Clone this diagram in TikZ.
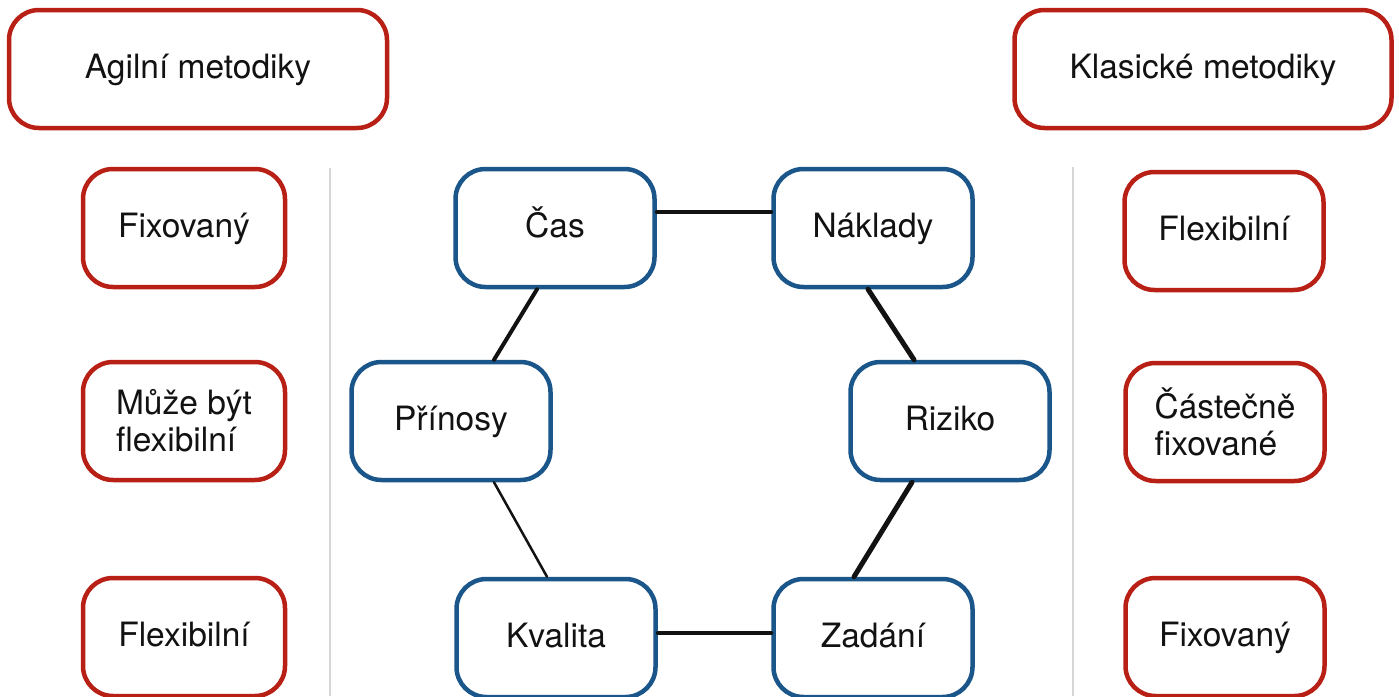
\documentclass[tikz,border=0pt]{standalone}
\usepackage{fontspec}
\setmainfont{TeX Gyre Heros}
\usetikzlibrary{calc}
\definecolor{agred}{RGB}{184,32,22}
\definecolor{agblue}{RGB}{26,86,138}
\definecolor{sepgray}{RGB}{214,214,214}
\definecolor{inkc}{RGB}{18,18,18}
\begin{document}
\begin{tikzpicture}[x=1pt,y=-1pt,
  box/.style={draw, rounded corners=30pt, minimum height=118pt, inner sep=0pt,
    fill=white, line width=4.5pt, font=\fontsize{33.5}{37}\selectfont, text=inkc},
  oneline/.style={text height=24pt, text depth=6pt},
  redbox/.style={box, draw=agred},
  bluebox/.style={box, oneline, draw=agblue, minimum width=199pt},
  link/.style={draw=inkc, line cap=round},
  sep/.style={draw=sepgray, line width=1.5pt}]
\useasboundingbox (0,0) rectangle (1399,696);
% separators
\coordinate (s1t) at (330,168); \coordinate (s1b) at (330,696);
\coordinate (s2t) at (1073,167); \coordinate (s2b) at (1073,696);
\draw[sep] (s1t) -- (s1b);
\draw[sep] (s2t) -- (s2b);
% headers
\node[redbox, oneline, minimum width=378pt] (agile) at (198,69) {Agilní metodiky};
\node[redbox, oneline, minimum width=377pt] (classic) at (1203,69) {Klasické metodiky};
% left column
\node[redbox, oneline, minimum width=202pt] (a1) at (184,228) {Fixovaný};
\node[redbox, minimum width=202pt, align=left] (a2) at (184,421) {Může být\\flexibilní};
\node[redbox, oneline, minimum width=202pt] (a3) at (184,637) {Flexibilní};
% right column
\node[redbox, oneline, minimum width=199pt] (k1) at (1224,231) {Flexibilní};
\node[redbox, minimum width=199pt, align=left] (k2) at (1225,422) {Částečně\\fixované};
\node[redbox, oneline, minimum width=199pt] (k3) at (1225,637) {Fixovaný};
% hexagon
\node[bluebox] (cas) at (555,228) {Čas};
\node[bluebox] (nak) at (873,228) {Náklady};
\node[bluebox] (pri) at (451,421) {Přínosy};
\node[bluebox] (riz) at (950,421) {Riziko};
\node[bluebox] (kva) at (556,638) {Kvalita};
\node[bluebox] (zad) at (873,638) {Zadání};
% connectors
\draw[link, line width=4pt] ($(cas.east)+(0,-16)$) -- ($(nak.west)+(0,-16)$);
\draw[link, line width=4pt] ($(cas.south)+(-18,0)$) -- ($(pri.north)+(43,0)$);
\draw[link, line width=5pt] ($(nak.south)+(-5,0)$) -- ($(riz.north)+(-36,0)$);
\draw[link, line width=2.5pt] ($(pri.south)+(43,0)$) -- ($(kva.north)+(-9,0)$);
\draw[link, line width=5pt] ($(riz.south)+(-38,0)$) -- ($(zad.north)+(-19,0)$);
\draw[link, line width=4pt] ($(kva.east)+(0,-5)$) -- ($(zad.west)+(0,-5)$);
\end{tikzpicture}
\end{document}
